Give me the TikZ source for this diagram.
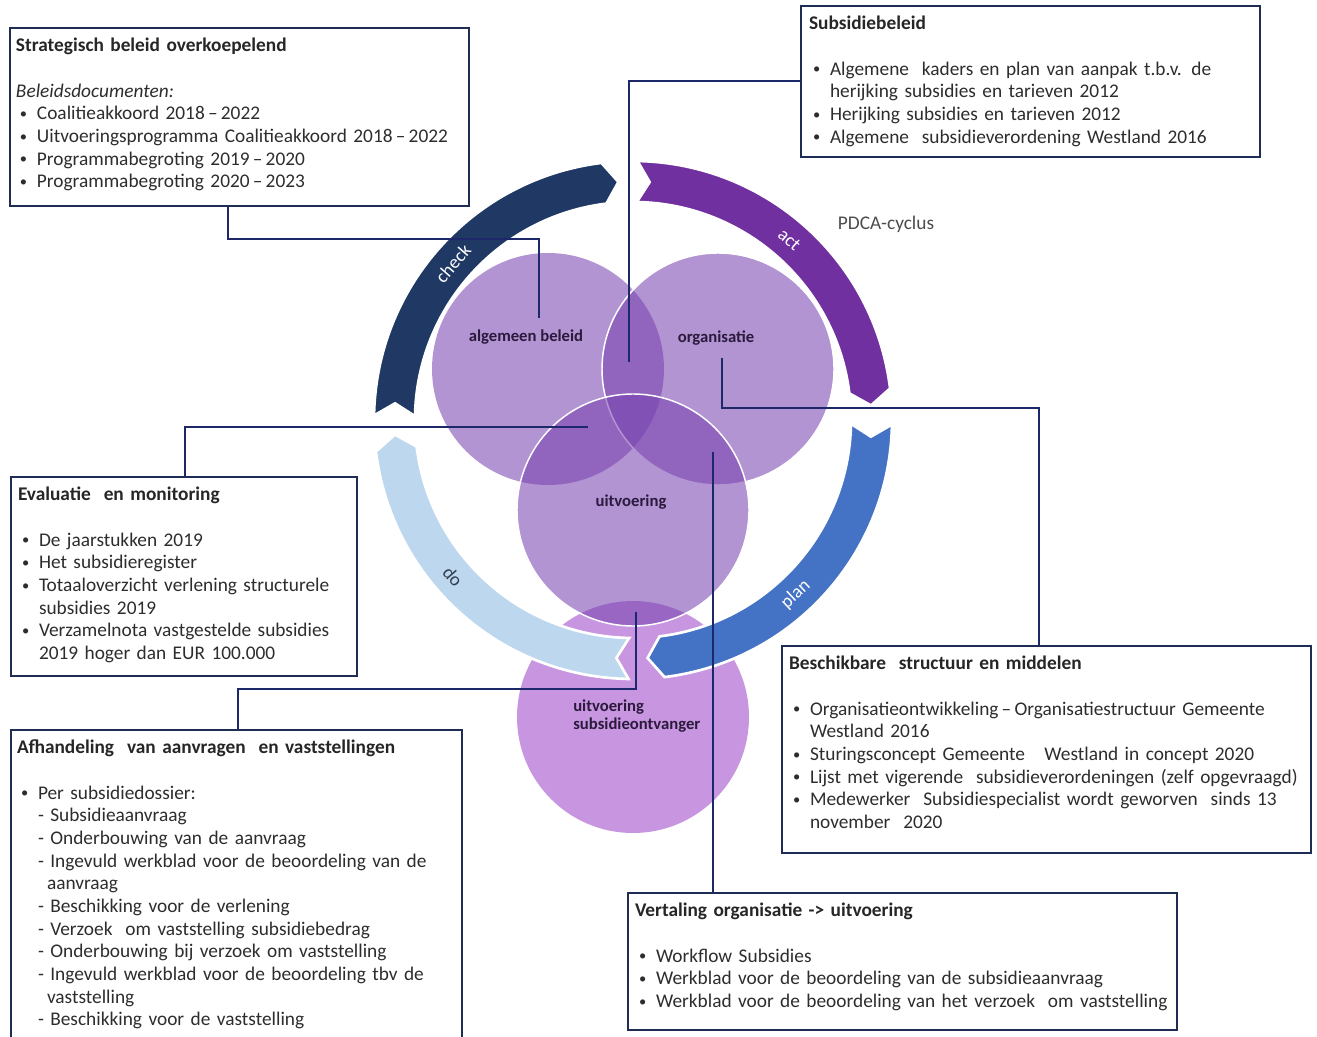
\documentclass[tikz,border=0pt]{standalone}
\usepackage{fontspec}
\setmainfont{Carlito}
\usetikzlibrary{calc,fit}
\definecolor{navy}{RGB}{31,45,85}
\definecolor{conncol}{RGB}{28,40,105}
\definecolor{txt}{RGB}{45,45,45}
\definecolor{circ}{RGB}{120,67,176}
\definecolor{circb}{RGB}{159,71,202}
\definecolor{ckcol}{RGB}{31,56,100}
\definecolor{actcol}{RGB}{112,48,160}
\definecolor{plancol}{RGB}{68,114,196}
\definecolor{docol}{RGB}{189,215,238}
\definecolor{dotxt}{RGB}{50,62,80}
\definecolor{lbl}{RGB}{43,26,61}
\newcommand{\bitem}[1]{\par\noindent\hangindent=15.75pt\hangafter=1\hspace*{3pt}\makebox[12.75pt][l]{\raisebox{0.15ex}{\scalebox{0.75}{\textbullet}}}#1}
\newcommand{\ditem}[1]{\par\noindent\hangindent=22.5pt\hangafter=1\hspace*{15.75pt}-\space#1}
\newcommand{\boxtitle}[1]{\noindent\strut{\color{black!85}\textbf{#1}}\par\noindent\mbox{}\par}
\newcommand{\RingO}{259}
\newcommand{\RingI}{218}
\newcommand{\RingM}{238.5}
\newcommand{\ringarrow}[2]{%
  \fill[#2, draw=white, line width=2pt]
    (#1:\RingO) arc[start angle=#1, end angle={#1-82}, radius=\RingO]
    -- ({#1-85.5}:\RingM) -- ({#1-82}:\RingI)
    arc[start angle={#1-82}, end angle=#1, radius=\RingI]
    -- ({#1-3}:\RingM) -- cycle;}
\tikzset{
  box/.style={draw=navy, line width=1.9pt, inner sep=0pt, rectangle},
  boxtext/.style={anchor=north west, inner sep=0pt, text width=600pt, align=left,
    font=\fontsize{14.5}{17}\selectfont, text=txt},
  conn/.style={draw=conncol, line width=1.5pt},
  venn/.style={circle, inner sep=0pt, minimum size=174pt, fill=circ, fill opacity=0.57},
  vennw/.style={venn, draw=white, draw opacity=1, line width=1.1pt},
  clabel/.style={font=\fontsize{12.5}{13.5}\selectfont\bfseries, text=lbl, inner sep=0pt},
  alabel/.style={font=\fontsize{14}{16}\selectfont, text=white, inner sep=0pt},
}
\begin{document}
\begin{tikzpicture}[x=0.75pt,y=-0.75pt]
\fill[white] (0,0) rectangle (1317,1037);
\path[use as bounding box] (0,0) rectangle (1317,1037);

% circles
\node[venn, fill=circb] (cbot) at (633,717) {};
\node[venn] (cab) at (548,369) {};
\node[vennw] (corg) at (718,369) {};
\node[vennw] (cuit) at (633,510) {};

% PDCA ring
\begin{scope}[shift={(633,420)},x=0.75pt,y=0.75pt]
  \ringarrow{179}{ckcol}
  \ringarrow{89}{actcol}
  \ringarrow{-1}{plancol}
  \ringarrow{-91}{docol}
  \node[alabel, rotate=49] (lcheck) at (139:\RingM) {check};
  \node[alabel, rotate=-41] (lact) at (49:\RingM) {act};
  \node[alabel, rotate=43] (lplan) at (-47:\RingM) {plan};
  \node[alabel, text=dotxt, rotate=-49] (ldo) at (-139:\RingM) {do};
\end{scope}

% circle labels
\node[clabel] (tab) at (526,337) {algemeen beleid};
\node[clabel] (torg) at (716,338) {organisatie};
\node[clabel] (tuit) at (631,502) {uitvoering};
\node[clabel, anchor=north west, align=left] (tbot) at (573,700) {uitvoering\\subsidieontvanger};
\node[font=\fontsize{14.5}{17}\selectfont, text=txt!85!white, inner sep=0pt] (pdca) at (886,224) {PDCA-cyclus};

% boxes
\node[box, fit={(10,28) (469,206)}] (strat) {};
\node[box, fit={(801,6) (1260,157)}] (subs) {};
\node[box, fit={(11,477) (357,676)}] (eval) {};
\node[box, fit={(11,730) (462,1050)}] (afh) {};
\node[box, fit={(782,646) (1311,853)}] (besch) {};
\node[box, fit={(628,893) (1177,1030)}] (vert) {};

\node[boxtext] (strat-t) at ($(strat.north west)+(7,9)$) {%
\boxtitle{Strategisch beleid overkoepelend}
\noindent\textit{Beleidsdocumenten:}
\bitem{Coalitieakkoord 2018\,–\,2022}
\bitem{Uitvoeringsprogramma Coalitieakkoord 2018\,–\,2022}
\bitem{Programmabegroting 2019\,–\,2020}
\bitem{Programmabegroting 2020\,–\,2023}\par};

\node[boxtext] (subs-t) at ($(subs.north west)+(9,9)$) {%
\boxtitle{Subsidiebeleid}
\bitem{Algemene\ \ kaders en plan van aanpak t.b.v. de\newline herijking subsidies en tarieven 2012}
\bitem{Herijking subsidies en tarieven 2012}
\bitem{Algemene\ \ subsidieverordening Westland 2016}\par};

\node[boxtext] (eval-t) at ($(eval.north west)+(8,9)$) {%
\boxtitle{Evaluatie\ \ en monitoring}
\bitem{De jaarstukken 2019}
\bitem{Het subsidieregister}
\bitem{Totaaloverzicht verlening structurele\newline subsidies 2019}
\bitem{Verzamelnota vastgestelde subsidies\newline 2019 hoger dan EUR 100.000}\par};

\node[boxtext] (afh-t) at ($(afh.north west)+(7,9)$) {%
\boxtitle{Afhandeling\ \ van aanvragen\ \ en vaststellingen}
\bitem{Per subsidiedossier:}
\ditem{Subsidieaanvraag}
\ditem{Onderbouwing van de aanvraag}
\ditem{Ingevuld werkblad voor de beoordeling van de\newline aanvraag}
\ditem{Beschikking voor de verlening}
\ditem{Verzoek\ \ om vaststelling subsidiebedrag}
\ditem{Onderbouwing bij verzoek om vaststelling}
\ditem{Ingevuld werkblad voor de beoordeling tbv de\newline vaststelling}
\ditem{Beschikking voor de vaststelling}\par};

\node[boxtext] (besch-t) at ($(besch.north west)+(8,9)$) {%
\boxtitle{Beschikbare\ \ structuur en middelen}
\bitem{Organisatieontwikkeling\,–\,Organisatiestructuur Gemeente\newline Westland 2016}
\bitem{Sturingsconcept Gemeente\ \ \ Westland in concept 2020}
\bitem{Lijst met vigerende\ \ subsidieverordeningen (zelf opgevraagd)}
\bitem{Medewerker\ \ Subsidiespecialist wordt geworven\ \ sinds 13\newline november\ \ 2020}\par};

\node[boxtext] (vert-t) at ($(vert.north west)+(8,9)$) {%
\boxtitle{Vertaling organisatie -> uitvoering}
\bitem{Workflow Subsidies}
\bitem{Werkblad voor de beoordeling van de subsidieaanvraag}
\bitem{Werkblad voor de beoordeling van het verzoek\ \ om vaststelling}\par};

% connector ends
\coordinate (e1) at (539,318);
\coordinate (e2) at (629,362);
\coordinate (e3) at (588,427);
\coordinate (e4) at (722,358);
\coordinate (e5) at (636,612);
\coordinate (e6) at (713,452);

\draw[conn] ($(strat.south west)+(219,0)$) -- ++(0,32) -| (e1);
\draw[conn] (subs.west) -| (e2);
\draw[conn] ($(eval.north west)+(175,0)$) |- (e3);
\draw[conn] (e4) -- ++(0,50) -| ($(besch.north west)+(258,0)$);
\draw[conn] ($(afh.north west)+(228,0)$) -- ++(0,-40) -| (e5);
\draw[conn] (e6 |- vert.north) -- (e6);
\end{tikzpicture}
\end{document}
